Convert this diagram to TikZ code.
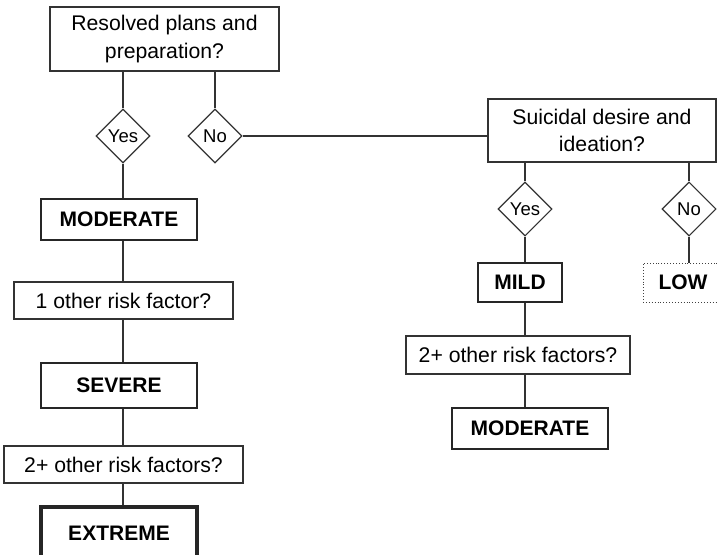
\documentclass[tikz,border=0pt]{standalone}
\usepackage{fontspec}
\setmainfont{Liberation Sans}
\usetikzlibrary{shapes.geometric}

% boxes, answer diamonds and links of the risk tree
\tikzset{
  question/.style={draw=black!80, line width=1.1pt, fill=white, align=center,
    inner sep=0pt, font=\fontsize{21.2}{27.5}\selectfont},
  level/.style={draw=black!85, fill=white, inner sep=0pt,
    font=\fontsize{21}{24}\selectfont\bfseries},
  answer/.style={diamond, draw=black!80, line width=1.1pt, fill=white,
    minimum width=54pt, minimum height=54pt, inner sep=0pt,
    font=\fontsize{18.5}{20}\selectfont},
  link/.style={draw=black!80, line width=1.1pt},
}

\begin{document}
\begin{tikzpicture}[x=1pt,y=-1pt]
      \useasboundingbox (0,0) rectangle (717,554);

      % left branch
      \node[question, minimum width=229, minimum height=64] (plans) at (164.5,39) {Resolved plans and\\preparation?};
      \node[answer] (yesA) at (123,136) {Yes};
      \node[answer] (noA) at (215,136) {No};
      \node[level, line width=2pt, minimum width=156, minimum height=41] (modA) at (119,219.5) {MODERATE};
      \node[question, minimum width=219, minimum height=37] (oneRisk) at (123.5,300.5) {1 other risk factor?};
      \node[level, line width=2.7pt, minimum width=156, minimum height=45] (severe) at (119,385.5) {SEVERE};
      \node[question, minimum width=239, minimum height=37] (twoRiskA) at (123.5,464.5) {2+ other risk factors?};
      \node[level, line width=4pt, minimum width=156, minimum height=52] (extreme) at (119,533) {EXTREME};

      % right branch
      \node[question, minimum width=228, minimum height=63] (desire) at (602,130.5) {Suicidal desire and\\ideation?};
      \node[answer] (yesB) at (525,209) {Yes};
      \node[answer] (noB) at (689,209) {No};
      \node[level, line width=1.7pt, minimum width=84, minimum height=39] (mild) at (520,282.5) {MILD};
      \node[level, draw=black!75, dotted, line width=0.9pt, minimum width=80, minimum height=39] (low) at (683,282.5) {LOW};
      \node[question, minimum width=224, minimum height=38] (twoRiskB) at (518,355) {2+ other risk factors?};
      \node[level, line width=2pt, minimum width=156, minimum height=41] (modB) at (530,428.5) {MODERATE};

      % links
      \draw[link] (plans.south -| yesA) -- (yesA.north);
      \draw[link] (plans.south -| noA) -- (noA.north);
      \draw[link] (noA.east) -- (noA.east -| desire.west);
      \draw[link] (yesA.south) -- (yesA |- modA.north);
      \draw[link] (yesA |- modA.south) -- (yesA |- oneRisk.north);
      \draw[link] (yesA |- oneRisk.south) -- (yesA |- severe.north);
      \draw[link] (yesA |- severe.south) -- (yesA |- twoRiskA.north);
      \draw[link] (yesA |- twoRiskA.south) -- (yesA |- extreme.north);

      \draw[link] (desire.south -| yesB) -- (yesB.north);
      \draw[link] (desire.south -| noB) -- (noB.north);
      \draw[link] (yesB.south) -- (yesB |- mild.north);
      \draw[link] (noB.south) -- (noB |- low.north);
      \draw[link] (yesB |- mild.south) -- (yesB |- twoRiskB.north);
      \draw[link] (yesB |- twoRiskB.south) -- (yesB |- modB.north);
\end{tikzpicture}
\end{document}
